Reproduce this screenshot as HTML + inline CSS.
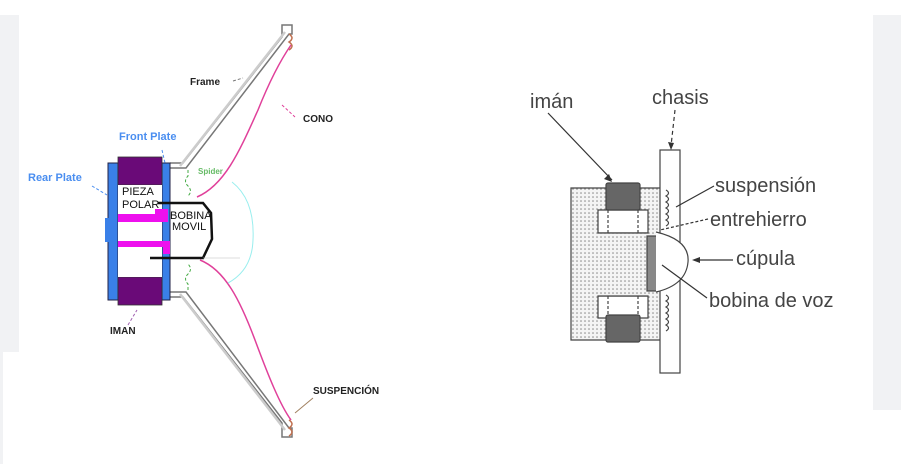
<!DOCTYPE html>
<html><head><meta charset="utf-8"><style>
html,body{margin:0;padding:0;background:#fff;}
body{width:901px;height:464px;overflow:hidden;}
svg{display:block}
</style></head><body>
<svg width="901" height="464" viewBox="0 0 901 464" xmlns="http://www.w3.org/2000/svg">
<defs>
<pattern id="dots" width="4" height="4" patternUnits="userSpaceOnUse">
<rect width="4" height="4" fill="#f4f4f4"/>
<circle cx="1" cy="1" r="0.8" fill="#888"/>
</pattern>
</defs>
<rect width="901" height="464" fill="#fff"/>
<rect x="0" y="15" width="19" height="337" fill="#f1f2f4"/>
<rect x="873" y="15" width="28" height="395" fill="#f1f2f4"/>
<rect x="0" y="352" width="3" height="112" fill="#f1f2f4"/>

<!-- LEFT DIAGRAM -->
<g fill="none" stroke="#777" stroke-width="1.5">
<path d="M170 163 L183 163 L282 37 L282 25 L292 25 L292 34 L289 34 L186 168 L170 168"/>
<path d="M170 297 L183 297 L282 423 L282 437 L292 437 L292 428 L289 428 L186 292 L170 292"/>
</g>
<path d="M180 166 L285 32" stroke="#ccc" stroke-width="2.5" fill="none"/>
<path d="M180 294 L285 430" stroke="#ccc" stroke-width="2.5" fill="none"/>
<path d="M197 197 C225 185 240 150 258 110 C270 80 282 58 291 45" stroke="#e0409a" stroke-width="1.5" fill="none"/>
<path d="M200 260 C225 270 240 300 255 340 C268 375 280 405 291 420" stroke="#e0409a" stroke-width="1.5" fill="none"/>
<path d="M289 34 q6 4 0 8 q6 4 0 8" stroke="#c07050" stroke-width="1.5" fill="none"/>
<path d="M289 420 q6 4 0 8 q6 4 0 8" stroke="#c07050" stroke-width="1.5" fill="none"/>
<path d="M232 182 Q255 200 253 240 Q252 270 228 283" stroke="#9ee" stroke-width="1" fill="none"/>
<path d="M188 170 v6 q-5 5 0 10 q5 5 0 10" stroke="#4a4" stroke-width="1" stroke-dasharray="3 2" fill="none"/>
<path d="M188 290 v-6 q-5 -5 0 -10 q5 -5 0 -10" stroke="#4a4" stroke-width="1" stroke-dasharray="3 2" fill="none"/>
<text x="198" y="174" font-family="Liberation Sans,sans-serif" font-size="8" font-weight="bold" fill="#6b6">Spider</text>
<rect x="108" y="163" width="10" height="137" fill="#3a80e8" stroke="#224" stroke-width="1"/>
<rect x="105" y="218" width="4" height="24" fill="#3a80e8"/>
<rect x="162" y="163" width="8" height="137" fill="#3a80e8" stroke="#224" stroke-width="1"/>
<rect x="118" y="157" width="44" height="28" fill="#6a0a78" stroke="#333" stroke-width="0.8"/>
<rect x="118" y="277" width="44" height="28" fill="#6a0a78" stroke="#333" stroke-width="0.8"/>
<rect x="118" y="185" width="44" height="92" fill="#fff"/>
<path d="M118 214 L155 214 L155 209 L168 209 L168 222 L118 222 Z" fill="#ee10ee"/>
<path d="M118 241 L170 241 L170 254 L163 254 L163 247 L118 247 Z" fill="#ee10ee"/>
<path d="M158 203 L203 203 L211 213 L212 239 L203 258 L150 258" stroke="#111" stroke-width="2.5" fill="none"/>
<path d="M203 258 L240 258" stroke="#bbb" stroke-width="0.6"/>
<g font-family="Liberation Sans,sans-serif" font-size="11" fill="#111">
<text x="122" y="195">PIEZA</text>
<text x="122" y="208">POLAR</text>
<text x="170" y="219">BOBINA</text>
<text x="172" y="230">MOVIL</text>
</g>
<g font-family="Liberation Sans,sans-serif" font-size="10" font-weight="bold" fill="#222">
<text x="110" y="334">IMAN</text>
<text x="303" y="122">CONO</text>
<text x="313" y="394">SUSPENCIÓN</text>
<text x="190" y="85">Frame</text>
</g>
<g font-family="Liberation Sans,sans-serif" font-size="11" font-weight="bold" fill="#4a8ef0">
<text x="119" y="140">Front Plate</text>
<text x="28" y="181">Rear Plate</text>
</g>
<g stroke-width="1" fill="none" stroke-dasharray="3 2">
<path d="M233 81 L243 78" stroke="#777"/>
<path d="M282 105 L295 117" stroke="#e0409a"/>
<path d="M162 150 L165 163" stroke="#4a8ef0"/>
<path d="M92 186 L107 195" stroke="#4a8ef0"/>
<path d="M128 325 L137 310" stroke="#a060b0"/>
<path d="M295 413 L313 398" stroke="#a08060" stroke-dasharray="none"/>
</g>

<!-- RIGHT DIAGRAM -->
<g stroke="#444" stroke-width="1.2">
<path d="M571 188 L663 188 L663 340 L571 340 Z" fill="url(#dots)"/>
<path d="M598 210 L648 210 L648 233 L598 233 Z M598 296 L648 296 L648 318 L598 318 Z" fill="#fff"/>
<rect x="598" y="233" width="50" height="63" fill="url(#dots)" stroke="none"/>
<path d="M598 233 L648 233 M598 296 L648 296" fill="none"/>
<path d="M608 210 L608 233 M638 210 L638 233 M608 296 L608 318 M638 296 L638 318" stroke-dasharray="3 2" fill="none"/>
<rect x="647" y="236" width="10" height="55" fill="#888"/>
<rect x="660" y="150" width="20" height="223" fill="#fff"/>
<rect x="606" y="183" width="34" height="27" fill="#666" rx="2"/>
<rect x="606" y="315" width="34" height="27" fill="#666" rx="2"/>
<path d="M656 232 Q690 240 688 262 Q686 285 656 292" fill="#fff"/>
<path d="M666 190 q5 3 0 6 q5 3 0 6 q5 3 0 6 q5 3 0 6 q5 3 0 6 q5 3 0 6" fill="none"/>
<path d="M666 295 q5 3 0 6 q5 3 0 6 q5 3 0 6 q5 3 0 6 q5 3 0 6 q5 3 0 6" fill="none"/>
</g>
<g stroke="#333" stroke-width="1.2" fill="none">
<path d="M548 113 L612 180"/>
<path d="M675 110 L671 146" stroke-dasharray="4 3"/>
<path d="M714 186 L676 207"/>
<path d="M708 219 L660 230" stroke-dasharray="3 2"/>
<path d="M733 260 L696 260"/>
<path d="M707 298 L662 265"/>
</g>
<g fill="#333">
<path d="M612 182 l-8 -3 l5 -5 z"/>
<path d="M671 150 l-3 -8 l6 1 z"/>
<path d="M692 260 l8 -3 l0 6 z"/>
</g>
<g font-family="Liberation Sans,sans-serif" font-size="20" fill="#444">
<text x="530" y="108">imán</text>
<text x="652" y="104">chasis</text>
<text x="715" y="192">suspensión</text>
<text x="710" y="226">entrehierro</text>
<text x="736" y="265">cúpula</text>
<text x="709" y="307">bobina de voz</text>
</g>
</svg>
</body></html>
